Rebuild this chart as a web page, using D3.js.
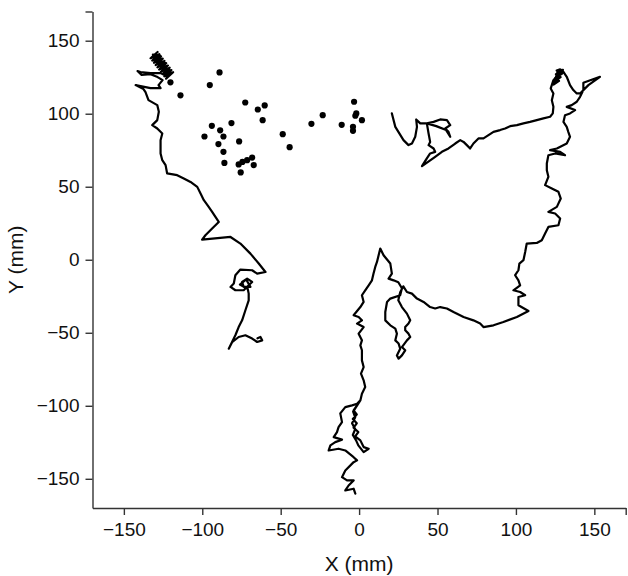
<!DOCTYPE html>
<html>
<head>
<meta charset="utf-8">
<script src="https://cdn.jsdelivr.net/npm/d3@7"></script>
<style>
  html, body { margin: 0; padding: 0; background: #fff; }
  svg { display: block; }
  text { font-family: "Liberation Sans", Arial, sans-serif; fill: #111; }
</style>
</head>
<body>
<svg id="chart" width="628" height="576"></svg>
<script>
// ---- data (mm) ----
const xTicks = [-150, -100, -50, 0, 50, 100, 150, 170];
const yTicks = [-150, -100, -50, 0, 50, 100, 150, 170];
const xLabel = "X (mm)";
const yLabel = "Y (mm)";

// left trajectory (cluster at top-left down to the lower curl)
const leftTrack = [
  [-128.5,142.3],[-133.0,138.0],[-127.4,140.8],[-131.9,136.4],[-126.3,139.2],[-130.8,134.9],
  [-125.2,137.7],[-129.7,133.3],[-124.1,136.1],[-128.6,131.8],[-123.0,134.6],[-127.5,130.2],
  [-121.9,133.0],[-126.4,128.7],[-120.8,131.5],[-125.3,127.1],[-119.7,129.9],[-124.2,125.6],
  [-118.6,128.4],[-123.1,124.0],[-121.5,127.0],[-124.0,128.2],[-121.0,130.0],[-125.5,130.5],
  [-122.5,132.5],[-127.0,132.8],[-124.0,135.0],[-128.5,135.2],[-125.5,137.5],[-130.0,137.5],
  [-127.0,140.0],[-131.5,140.5],[-129.5,138.5],[-130.5,136.0],[-127.5,136.5],[-128.0,133.5],
  [-125.0,134.0],[-125.5,131.0],[-122.5,131.0],[-123.0,128.0],[-120.5,127.5],[-122.0,125.5],
  [-126.6,127.8],[-133.0,127.8],[-139.4,128.5],[-141.3,129.2],
  [-138.7,126.5],[-133.0,127.1],[-128.5,125.1],[-125.3,123.0],[-127.9,119.6],[-126.6,117.5],
  [-133.0,117.5],[-142.5,119.6],[-137.5,116.9],[-136.2,114.8],[-134.3,109.3],[-128.7,105.9],
  [-127.7,101.3],[-128.7,95.6],[-131.9,92.2],[-128.7,89.9],[-125.5,86.5],[-126.6,81.9],
  [-126.6,72.8],[-125.5,68.2],[-123.4,64.8],[-122.4,59.1],[-116.0,57.9],[-111.8,55.7],
  [-107.5,53.3],[-103.2,49.9],[-101.1,45.4],[-99.0,40.8],[-95.9,36.2],[-93.7,32.8],
  [-91.6,29.3],[-89.5,25.9],[-93.7,21.4],[-98.0,16.8],[-100.1,13.8],[-82.0,15.6],
  [-75.7,11.1],[-69.3,4.2],[-64.0,-2.6],[-59.7,-8.4],[-65.0,-9.5],[-68.2,-7.2],
  [-75.7,-6.7],[-78.9,-10.6],[-79.9,-16.3],[-82.0,-18.6],[-78.9,-20.9],[-73.6,-20.9],
  [-70.4,-17.5],[-68.2,-15.2],[-71.4,-12.9],[-74.6,-15.2],[-73.6,-18.6],[-69.3,-18.6],
  [-72.0,-13.5],[-76.0,-17.0],[-71.0,-20.0],[-70.4,-23.2],[-70.4,-27.8],
  [-72.5,-34.6],[-74.6,-41.5],[-76.8,-46.1],[-78.9,-51.7],[-81.0,-56.3],[-83.1,-60.9],
  [-81.0,-56.5],[-76.8,-52.9],[-72.5,-51.7],[-68.2,-54.0],[-65.0,-56.3],[-61.8,-55.2],
  [-62.9,-52.9],[-64.8,-53.8]
];

// central + right trajectory
const mainTrack = [
  [-2.4,-160.2],[-3.5,-156.8],[-8.8,-158.0],[-6.7,-154.6],[-3.5,-151.1],[-7.7,-151.1],
  [-10.9,-148.9],[-8.8,-144.3],[-3.5,-138.6],[-1.3,-137.4],[-3.5,-135.2],[-8.8,-130.6],
  [-13.1,-129.4],[-19.4,-130.6],[-18.3,-127.1],[-15.2,-124.9],[-10.9,-123.2],[-16.2,-121.5],
  [-14.1,-118.0],[-13.1,-114.6],[-10.9,-111.2],[-12.0,-105.2],[-8.8,-100.9],[-4.5,-99.7],
  [-1.3,-98.6],[0.8,-96.3],[-3.5,-103.2],[-1.5,-106.0],[-4.0,-109.0],[-1.5,-112.0],
  [-3.5,-115.0],[-0.5,-118.0],[-2.5,-121.0],[0.8,-123.7],[2.9,-128.3],[6.1,-129.4],
  [2.9,-131.7],[-0.5,-127.1],[-2.0,-123.5],[-4.0,-120.0],[-2.5,-116.0],[-4.5,-112.0],
  [-2.5,-108.0],[-3.8,-104.0],[0.8,-96.3],[1.8,-91.7],[3.9,-87.2],[2.9,-82.6],[1.2,-78.0],
  [2.9,-73.5],[1.8,-68.9],[1.8,-62.0],[0.8,-58.6],[1.8,-55.2],[-0.3,-50.6],
  [2.9,-46.1],[-1.3,-43.7],[1.8,-41.5],[-0.3,-39.2],[-3.5,-38.0],[0.8,-32.4],
  [2.9,-28.9],[1.8,-24.3],[3.9,-20.9],[6.1,-17.5],[8.2,-14.1],[9.2,-9.5],
  [10.3,-4.9],[11.4,-1.5],[13.5,7.7],[15.6,3.1],[19.9,-2.6],[20.9,-9.5],
  [18.8,-12.9],[22.0,-14.1],[25.0,-15.4],[27.3,-19.5],[26.2,-24.3],[19.9,-26.6],
  [17.8,-28.9],[16.7,-35.8],[16.7,-41.5],[19.9,-44.9],[23.1,-47.2],[24.1,-50.6],
  [23.1,-55.2],[25.2,-57.4],[26.2,-60.9],[24.1,-65.5],[25.2,-67.7],[27.3,-65.5],
  [29.4,-62.0],[27.3,-59.8],[30.5,-55.2],[32.6,-52.9],[31.5,-50.6],[29.4,-48.3],
  [29.4,-46.1],[31.5,-43.7],[32.6,-41.5],[30.5,-36.9],[27.3,-32.4],[25.0,-27.8],
  [26.2,-22.3],[28.2,-18.2],[30.5,-22.1],[33.7,-23.2],[36.9,-26.6],[41.1,-28.9],
  [45.3,-32.4],[48.5,-33.4],[51.7,-32.4],[56.0,-33.4],[60.2,-35.8],[66.6,-39.2],
  [72.9,-41.5],[77.2,-43.7],[79.3,-46.1],[85.7,-44.9],[92.0,-42.6],[100.6,-39.2],
  [108.0,-35.1],[101.6,-31.2],[101.6,-25.5],[105.9,-24.3],[102.7,-22.1],[98.4,-20.9],
  [102.7,-17.5],[101.6,-14.1],[99.5,-10.6],[101.6,-7.2],[102.2,-2.6],[104.8,-0.3],
  [105.9,5.3],[106.9,11.1],[113.3,11.5],[116.5,13.4],[118.6,18.0],[120.7,22.5],
  [127.1,23.6],[128.2,28.2],[125.0,31.7],[120.7,32.8],[126.1,36.2],[128.6,41.9],
  [127.1,46.5],[122.9,48.8],[118.6,51.1],[120.7,56.8],[119.7,61.3],[119.7,65.9],
  [120.7,71.6],[125.0,72.8],[131.3,71.6],[128.2,73.9],[121.8,75.1],[126.1,76.2],
  [132.4,79.6],[134.5,84.2],[133.4,87.6],[132.4,91.0],[130.3,94.4],[131.3,99.0],
  [134.5,100.2],[137.7,102.5],[132.4,104.7],[135.6,105.9],[138.8,108.2],[140.9,111.6],
  [143.0,116.2],[143.0,121.2],[153.6,125.3],[146.2,119.6],[140.9,113.9],[138.8,113.9],
  [136.6,116.2],[134.5,119.6],[132.4,125.3],[130.3,128.7],[128.2,130.4],[126.0,129.5],
  [130.0,130.0],[125.5,127.0],[129.5,127.5],[125.0,124.5],[128.5,125.0],[124.5,122.0],
  [127.5,122.5],[124.0,120.0],[126.5,128.5],[129.4,129.0],[126.1,125.6],[123.9,123.0],
  [122.2,117.3],[123.9,113.9],[122.9,109.3],[123.9,104.7],[123.5,100.2],
  [121.8,97.9],[117.5,96.8],[113.3,95.6],[109.0,94.4],[104.8,93.4],[100.6,92.2],
  [96.3,91.5],[93.1,89.9],[89.9,88.8],[85.7,87.6],[82.5,85.3],[79.3,83.1],
  [76.1,83.1],[72.9,79.6],[70.8,76.2],[68.7,78.5],[66.6,80.7],[64.5,81.9],
  [61.3,79.6],[57.0,76.2],[52.8,73.9],[48.5,70.5],[40.1,64.1],[43.2,69.4],
  [45.3,72.8],[48.5,73.9],[47.5,76.2],[44.3,78.5],[45.3,80.7],[44.3,86.5],
  [43.2,93.4],[47.5,94.4],[51.7,96.1],[56.0,95.6],[58.1,92.2],[54.9,89.9],
  [57.0,87.6],[58.1,84.2],[55.5,88.8],[49.2,91.5],[43.2,93.4],[39.0,93.4],
  [36.4,96.1],[36.9,91.0],[35.8,84.2],[33.7,79.6],[31.5,78.5],[28.3,81.9],
  [23.1,91.0],[20.9,100.2]
];

// isolated points
const pointsX = [-89.0,-95.2,-113.9,-72.6,-64.6,-60.2,-61.5,-81.4,-93.9,-88.6,-86.5,-98.6,
  -89.7,-76.5,-86.5,-85.9,-76.8,-74.4,-71.4,-68.2,-75.5,-67.2,-48.7,-44.3,-30.4,-23.2,
  -11.1,-3.2,-1.8,-2.4,1.8,-3.9,-3.9,-120.3];
const pointsY = [128.3,119.6,112.6,107.7,102.9,105.7,95.6,93.6,91.7,88.6,84.4,84.4,
  79.2,81.0,73.9,66.3,65.3,67.0,68.2,70.0,59.8,64.8,86.0,77.1,93.1,99.0,
  92.4,108.2,100.2,98.6,95.6,91.0,88.3,121.5];

// ---- drawing ----
const svg = d3.select("#chart");
const x = d3.scaleLinear().domain([-170, 170]).range([92.5, 625.7]);
const y = d3.scaleLinear().domain([-170, 170]).range([508, 11.5]);

const fmt = d => (d === 170 ? "" : d3.format("d")(d));

const gx = svg.append("g").attr("transform", `translate(0,${y(-170)})`)
  .call(d3.axisBottom(x).tickValues(xTicks).tickFormat(fmt).tickSize(7).tickSizeOuter(0).tickPadding(8));
const gy = svg.append("g").attr("transform", `translate(${x(-170)},0)`)
  .call(d3.axisLeft(y).tickValues(yTicks).tickFormat(fmt).tickSize(7).tickSizeOuter(0).tickPadding(6));

[gx, gy].forEach(g => {
  g.select(".domain").attr("stroke", "#333").attr("stroke-width", 1.4);
  g.selectAll(".tick line").attr("stroke", "#333").attr("stroke-width", 1.4);
  g.selectAll(".tick text").attr("font-size", 19).attr("font-family", "Liberation Sans, Arial, sans-serif").attr("fill", "#111");
});

svg.append("text").attr("x", x(0)).attr("y", 571).attr("text-anchor", "middle")
  .attr("font-size", 21).text(xLabel);
svg.append("text").attr("transform", `translate(23,${y(0)}) rotate(-90)`).attr("text-anchor", "middle")
  .attr("font-size", 21).text(yLabel);

const line = d3.line().x(d => x(d[0])).y(d => y(d[1]));
[leftTrack, mainTrack].forEach(track => {
  svg.append("path").datum(track).attr("d", line)
    .attr("fill", "none").attr("stroke", "#000").attr("stroke-width", 2.2)
    .attr("stroke-linejoin", "round").attr("stroke-linecap", "round");
});

svg.append("g").selectAll("circle").data(pointsX.map((v, i) => [v, pointsY[i]]))
  .join("circle").attr("cx", d => x(d[0])).attr("cy", d => y(d[1])).attr("r", 3.1).attr("fill", "#000");
</script>
</body>
</html>
